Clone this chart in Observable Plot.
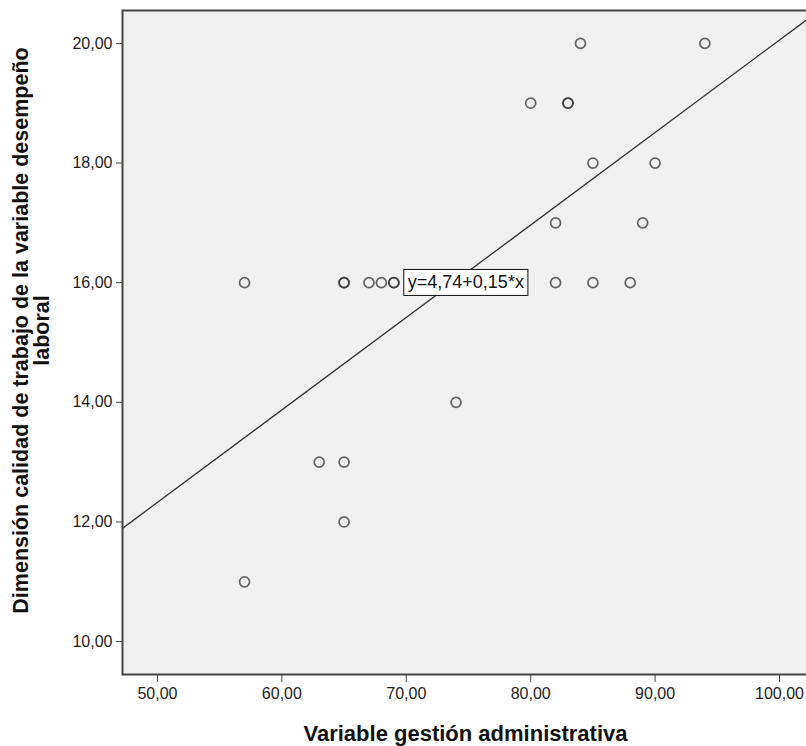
<!DOCTYPE html>
<html>
<head>
<meta charset="utf-8">
<script src="https://cdn.jsdelivr.net/npm/d3@7"></script>
<script src="https://cdn.jsdelivr.net/npm/@observablehq/plot@0.6"></script>
<style>
  html, body { margin: 0; padding: 0; background: #fff; overflow: hidden; }
  #chart { width: 806px; height: 746px; overflow: hidden; }
  #chart svg { max-width: none !important; display: block; }
</style>
</head>
<body>
<div id="chart"></div>
<script>
// Data
const gestion   = [57, 57, 63, 65, 65, 65, 65, 67, 68, 69, 69, 74, 80, 83, 83, 82, 82, 84, 85, 85, 88, 89, 90, 94];
const calidad   = [16, 11, 13, 13, 12, 16, 16, 16, 16, 16, 16, 14, 19, 19, 19, 17, 16, 20, 18, 16, 16, 17, 18, 20];
const xTicks = [50, 60, 70, 80, 90, 100];
const yTicks = [10, 12, 14, 16, 18, 20];
const xDomain = [47.19, 102.33];
const yDomain = [9.45, 20.55];
const equationText = "y=4,74+0,15*x";
const equationPos = {x: 69.8, y: 16};
const xTitle = "Variable gestión administrativa";
const yTitle = "Dimensión calidad de trabajo de la variable desempeño\nlaboral";

const points = gestion.map((g, i) => ({x: g, y: calidad[i]}));

// least-squares fit from the data
const mx = d3.mean(gestion), my = d3.mean(calidad);
const sxy = d3.sum(points, d => (d.x - mx) * (d.y - my));
const sxx = d3.sum(points, d => (d.x - mx) ** 2);
const slope = sxy / sxx, intercept = my - slope * mx;
const fit = xDomain.map(x => ({x, y: intercept + slope * x}));

const fmt = d => d.toFixed(2).replace(".", ",");
const font = "Liberation Sans, Arial, sans-serif";

const chart = Plot.plot({
  width: 812,
  height: 746,
  marginLeft: 122,
  marginRight: 4,
  marginTop: 10,
  marginBottom: 72,
  style: {fontFamily: font, fontSize: "16px", color: "#222", background: "#fff", maxWidth: "none"},
  x: {domain: xDomain, ticks: xTicks, tickFormat: fmt, label: null},
  y: {domain: yDomain, ticks: yTicks, tickFormat: fmt, label: null},
  marks: [
    Plot.frame({fill: "#f0f0f0"}),
    Plot.line(fit, {x: "x", y: "y", stroke: "#333", strokeWidth: 1.3, clip: true}),
    Plot.dot(points, {x: "x", y: "y", r: 5, stroke: "#333", strokeOpacity: 0.75, strokeWidth: 1.7, fill: "none"}),
    Plot.text([equationPos], {x: "x", y: "y", text: () => equationText, textAnchor: "start", dx: 4, fontSize: 18, fill: "#111", className: "eqlabel"}),
    Plot.frame({stroke: "#444", strokeWidth: 2}),
    Plot.axisX({ticks: xTicks, tickFormat: fmt, tickSize: 8, tickPadding: 5, fontSize: 16, label: null, stroke: "#444", fill: "#222"}),
    Plot.axisY({ticks: yTicks, tickFormat: fmt, tickSize: 6, tickPadding: 4, fontSize: 16, label: null, stroke: "#444", fill: "#222"}),
    Plot.text([xTitle], {frameAnchor: "bottom", text: d => d, dy: 59, fontSize: 22, fontWeight: "bold", fill: "#111", lineAnchor: "middle"}),
    Plot.text([yTitle], {frameAnchor: "left", text: d => d, rotate: -90, textAnchor: "middle", dx: -91, dy: -12, fontSize: 21.5, fontWeight: "bold", fill: "#111", lineAnchor: "middle", lineHeight: 1.0})
  ]
});

document.getElementById("chart").appendChild(chart);

// white box with border around the equation label
const g = chart.querySelector("g.eqlabel") || chart.querySelector(".eqlabel");
if (g) {
  const t = g.querySelector("text");
  const bb = t.getBBox();
  const rect = document.createElementNS("http://www.w3.org/2000/svg", "rect");
  const tr = t.getAttribute("transform");
  if (tr) rect.setAttribute("transform", tr);
  rect.setAttribute("x", bb.x - 4);
  rect.setAttribute("y", bb.y - 3);
  rect.setAttribute("width", bb.width + 8);
  rect.setAttribute("height", bb.height + 6);
  rect.setAttribute("fill", "#fff");
  rect.setAttribute("stroke", "#111");
  rect.setAttribute("stroke-width", 1);
  t.parentNode.insertBefore(rect, t);
}
</script>
</body>
</html>
